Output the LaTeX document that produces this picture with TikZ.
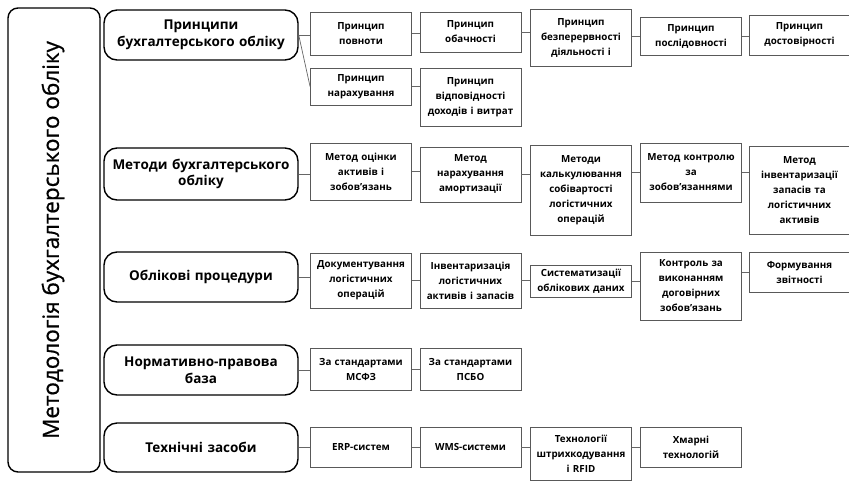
\documentclass[tikz,border=0pt]{standalone}
\usepackage{fontspec}
\setmainfont{Open Sans}
\newfontfamily\titlefont{Open Sans}[FakeBold=0.7]
\begin{document}
\begin{tikzpicture}[x=1pt,y=-1pt,
 big/.style={draw=black, line width=1.4pt, rounded corners=10pt},
 cat/.style={draw=black, line width=1.4pt, rounded corners=13pt, minimum width=194pt, text width=190pt, align=center, font=\bfseries\fontsize{13.5}{16.5}\selectfont, inner xsep=2pt, inner ysep=0pt},
 sb/.style={draw=black!65, line width=0.9pt, text width=99pt, inner xsep=1pt, inner ysep=0pt, align=center, font=\bfseries\fontsize{9.8}{15}\selectfont},
 ln/.style={draw=black!60, line width=0.7pt}]
\useasboundingbox (0,0) rectangle (849,480);
\node[big, minimum width=92pt, minimum height=464pt] (main) at (54,240) {};
\node[rotate=90, font=\titlefont\fontsize{22.5}{26}\selectfont] (title) at (53,240) {Методологія бухгалтерського обліку};
% categories
\node[cat, minimum height=50pt] (c1) at (201,35) {Принципи\\бухгалтерського обліку};
\node[cat, minimum height=52pt] (c2) at (201,174) {Методи бухгалтерського\\обліку};
\node[cat, minimum height=50pt] (c3) at (201,277) {Облікові процедури};
\node[cat, minimum height=50pt] (c4) at (201,370) {Нормативно-правова\\база};
\node[cat, minimum height=49pt] (c5) at (201,447.5) {Технічні засоби};
% row 1
\node[sb, minimum height=43pt] (p1) at (361,33.5) {Принцип\\повноти};
\node[sb, minimum height=40pt] (p2) at (470.5,32) {Принцип\\обачності};
\node[sb, minimum height=57pt] (p3) at (581,37.5) {Принцип\\безперервності\\діяльності і};
\node[sb, minimum height=38pt] (p4) at (691,36) {Принцип\\послідовності};
\node[sb, minimum height=40pt] (p5) at (799.5,35) {Принцип\\достовірності};
\node[sb, minimum height=37pt] (p6) at (361,86.5) {Принцип\\нарахування};
\node[sb, minimum height=58pt] (p7) at (470.5,97) {Принцип\\відповідності\\доходів і витрат};
% row 2
\node[sb, minimum height=57pt] (m1) at (361,171.5) {Метод оцінки\\активів і\\зобов'язань};
\node[sb, minimum height=55pt] (m2) at (470.5,174.5) {Метод\\нарахування\\амортизації};
\node[sb, minimum height=90pt] (m3) at (581,190) {Методи\\калькулювання\\собівартості\\логістичних\\операцій};
\node[sb, minimum height=59pt] (m4) at (691,172.5) {Метод контролю\\за\\зобов'язаннями};
\node[sb, minimum height=88pt] (m5) at (799.5,190) {Метод\\інвентаризації\\запасів та\\логістичних\\активів};
% row 3
\node[sb, minimum height=55pt] (d1) at (361,280.5) {Документування\\логістичних\\операцій};
\node[sb, minimum height=55pt] (d2) at (470.5,280.5) {Інвентаризація\\логістичних\\активів і запасів};
\node[sb, minimum height=32pt] (d3) at (581,281) {Систематизації\\облікових даних};
\node[sb, minimum height=68pt] (d4) at (691,286) {Контроль за\\виконанням\\договірних\\зобов'язань};
\node[sb, minimum height=40pt] (d5) at (799.5,272) {Формування\\звітності};
% row 4
\node[sb, minimum height=42pt] (s1) at (361,369) {За стандартами\\МСФЗ};
\node[sb, minimum height=42pt] (s2) at (470.5,369) {За стандартами\\ПСБО};
% row 5
\node[sb, minimum height=40pt] (t1) at (361,447) {ERP-систем};
\node[sb, minimum height=40pt] (t2) at (470.5,447) {WMS-системи};
\node[sb, minimum height=53pt] (t3) at (581,453.5) {Технології\\штрихкодування\\і RFID};
\node[sb, minimum height=40pt] (t4) at (691,447) {Хмарні\\технологій};
% connectors
\draw[ln] (c1.east) -- (c1.east -| p1.west);
\draw[ln] (c1.east) -- (p6.west);
\draw[ln] (p1.east) -- (p1.east -| p2.west);
\draw[ln] (p2.east) -- (p2.east -| p3.west);
\draw[ln] (p4.west -| p3.east) -- (p4.west);
\draw[ln] (p4.east) -- (p4.east -| p5.west);
\draw[ln] (p6.east) -- (p6.east -| p7.west);
\draw[ln] (c2.east) -- (c2.east -| m1.west);
\draw[ln] (m1.east) -- (m1.east -| m2.west);
\draw[ln] (m2.east) -- (m2.east -| m3.west);
\draw[ln] (m4.west -| m3.east) -- (m4.west);
\draw[ln] (m4.east) -- (m4.east -| m5.west);
\draw[ln] (c3.east) -- (c3.east -| d1.west);
\draw[ln] (d1.east) -- (d1.east -| d2.west);
\draw[ln] (d2.east) -- (d2.east -| d3.west);
\draw[ln] (d3.east) -- (d3.east -| d4.west);
\draw[ln] (d5.west -| d4.east) -- (d5.west);
\draw[ln] (c4.east) -- (c4.east -| s1.west);
\draw[ln] (s1.east) -- (s1.east -| s2.west);
\draw[ln] (c5.east) -- (c5.east -| t1.west);
\draw[ln] (t1.east) -- (t1.east -| t2.west);
\draw[ln] (t2.east) -- (t2.east -| t3.west);
\draw[ln] (t4.west -| t3.east) -- (t4.west);
\end{tikzpicture}
\end{document}
